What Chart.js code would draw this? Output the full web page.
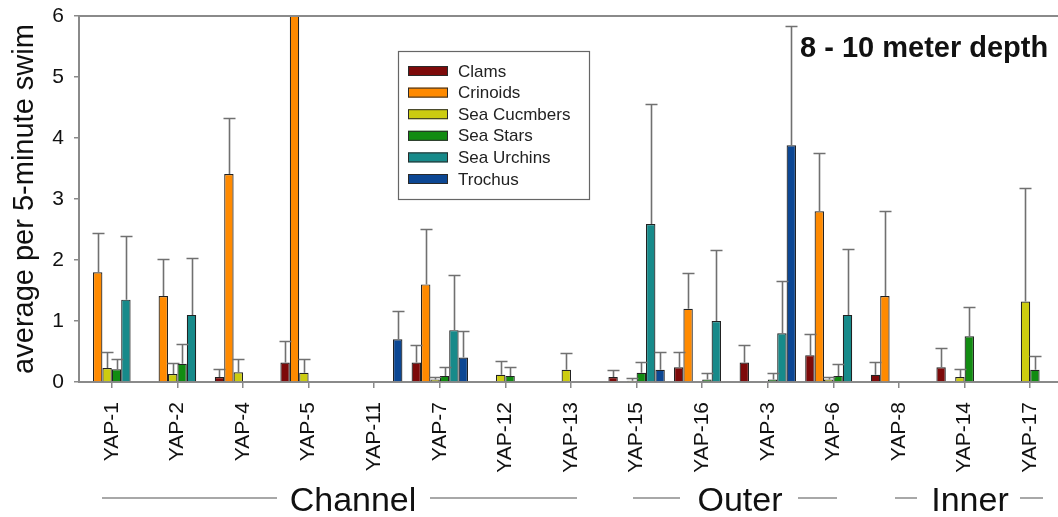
<!DOCTYPE html>
<html><head><meta charset="utf-8">
<script src="https://cdn.jsdelivr.net/npm/chart.js@4"></script>
<style>
html,body{margin:0;padding:0;background:#fff;overflow:hidden;width:1058px;height:517px}
#wrap{position:relative;width:1063px;height:517px}
canvas{display:block}
</style></head>
<body><div id="wrap"><canvas id="c" width="1063" height="517"></canvas></div>
<script>
// ---- data ----
const categories = ['YAP-1','YAP-2','YAP-4','YAP-5','YAP-11','YAP-7','YAP-12','YAP-13','YAP-15','YAP-16','YAP-3','YAP-6','YAP-8','YAP-14','YAP-17'];
const seriesNames = ['Clams','Crinoids','Sea Cucmbers','Sea Stars','Sea Urchins','Trochus'];

const clams       = [null,null,0.08,0.32,null,0.32,null,null,0.08,0.24,0.32,0.44,0.12,0.24,null];
const clamsSE     = [null,null,0.13,0.36,null,0.28,null,null,0.12,0.26,0.28,0.35,0.20,0.32,null];
const crinoids    = [1.80,1.41,3.41,6.40,null,1.60,null,null,null,1.20,null,2.80,1.41,null,null];
const crinoidsSE  = [0.65,0.60,0.92,1.20,null,0.91,null,null,null,0.58,null,0.96,1.39,null,null];
const cucumbers   = [0.23,0.13,0.16,0.15,null,0.04,0.12,0.20,0.02,null,null,0.04,null,0.08,1.32];
const cucumbersSE = [0.27,0.18,0.21,0.22,null,0.04,0.22,0.27,0.05,null,null,0.04,null,0.13,1.86];
const stars       = [0.21,0.30,null,null,null,0.10,0.10,null,0.15,0.04,0.04,0.10,null,0.75,0.20];
const starsSE     = [0.17,0.33,null,null,null,0.14,0.14,null,0.17,0.11,0.11,0.20,null,0.48,0.23];
const urchins     = [1.35,1.10,null,null,null,0.85,null,null,2.59,1.00,0.80,1.10,null,null,null];
const urchinsSE   = [1.04,0.94,null,null,null,0.91,null,null,1.96,1.16,0.85,1.08,null,null,null];
const trochus     = [null,null,null,null,0.70,0.40,null,null,0.20,null,3.88,null,null,null,null];
const trochusSE   = [null,null,null,null,0.46,0.43,null,null,0.29,null,1.96,null,null,null,null];

const yTicks = [0,1,2,3,4,5,6];
const groupNames = ['Channel','Outer','Inner'];
const chartTitle = '8 - 10 meter depth';
const yTitle = 'average per 5-minute swim';

// ---- styling ----
const colors = ['#7d0a0a','#ff8a00','#cccc10','#128c12','#178a8a','#0c4793'];
const FONT = "'Liberation Sans', Arial, sans-serif";

const values = [clams,crinoids,cucumbers,stars,urchins,trochus];
const errs = [clamsSE,crinoidsSE,cucumbersSE,starsSE,urchinsSE,trochusSE];

const datasets = seriesNames.map((n,i)=>({
  label:n, data:values[i], errors:errs[i],
  backgroundColor:colors[i], borderColor:'#222', borderWidth:1.2,
  barPercentage:1.0, categoryPercentage:0.86
}));

const AXIS = '#8a8a8a';

const errorBarPlugin = {
  id:'errorBars',
  afterDatasetsDraw(chart){
    const ctx=chart.ctx, ys=chart.scales.y, a=chart.chartArea;
    ctx.save();
    ctx.beginPath(); ctx.rect(a.left, a.top-2, a.right-a.left, a.bottom-a.top+2); ctx.clip();
    ctx.strokeStyle='#707070'; ctx.lineWidth=1.6;
    chart.data.datasets.forEach((ds,di)=>{
      const meta=chart.getDatasetMeta(di);
      ds.data.forEach((v,i)=>{
        const e=ds.errors[i];
        if(v==null||e==null) return;
        const bar=meta.data[i];
        const x=Math.round(bar.x)+0.5, y0=ys.getPixelForValue(v), y1=Math.round(ys.getPixelForValue(v+e))+0.5;
        ctx.beginPath();
        ctx.moveTo(x,y0); ctx.lineTo(x,y1);
        ctx.moveTo(x-6,y1); ctx.lineTo(x+6,y1);
        ctx.stroke();
      });
    });
    ctx.restore();
  }
};

const decorPlugin = {
  id:'decor',
  afterDraw(chart){
    const ctx=chart.ctx, a=chart.chartArea;
    ctx.save();
    // top frame line
    ctx.strokeStyle=AXIS; ctx.lineWidth=2;
    ctx.beginPath(); ctx.moveTo(a.left,a.top); ctx.lineTo(a.right,a.top); ctx.stroke();
    // title
    ctx.fillStyle='#111'; ctx.font="bold 29px "+FONT; ctx.textAlign='left'; ctx.textBaseline='alphabetic';
    ctx.fillText(chartTitle, 800, 57);
    // legend
    const lx=398, ly=51, lw=191, lh=148;
    ctx.fillStyle='#fff'; ctx.fillRect(lx,ly,lw,lh);
    ctx.strokeStyle='#666'; ctx.lineWidth=1.2; ctx.strokeRect(lx+0.5,ly+0.5,lw,lh);
    ctx.font="17px "+FONT; ctx.textBaseline='middle';
    chart.data.datasets.forEach((ds,i)=>{
      const cy=71+i*21.6;
      ctx.fillStyle=ds.backgroundColor; ctx.fillRect(408,cy-5,40,10);
      ctx.strokeStyle='#2a2a2a'; ctx.lineWidth=1; ctx.strokeRect(408.5,cy-4.5,39,9);
      ctx.fillStyle='#222'; ctx.fillText(ds.label,458,cy+1);
    });
    // group labels
    const groups=[
      {cx:353, lines:[[102,277],[430,577]]},
      {cx:740, lines:[[633,680],[798,837]]},
      {cx:970, lines:[[895,917],[1020,1043]]}
    ];
    ctx.font="34px "+FONT; ctx.textAlign='center'; ctx.textBaseline='alphabetic'; ctx.fillStyle='#111';
    ctx.strokeStyle='#a8a8a8'; ctx.lineWidth=2;
    groups.forEach((g,i)=>{
      ctx.fillText(groupNames[i], g.cx, 511);
      g.lines.forEach(l=>{ctx.beginPath(); ctx.moveTo(l[0],498); ctx.lineTo(l[1],498); ctx.stroke();});
    });
    ctx.restore();
  }
};

new Chart(document.getElementById('c'), {
  type:'bar',
  data:{labels:categories, datasets},
  plugins:[errorBarPlugin, decorPlugin],
  options:{
    responsive:false, animation:false, devicePixelRatio:1,
    layout:{padding:{top:16,left:0,right:0,bottom:0}},
    plugins:{legend:{display:false}, tooltip:{enabled:false}},
    scales:{
      x:{
        afterFit(s){ s.height=135; s.paddingLeft=0; s.paddingRight=0; },
        grid:{offset:false, drawOnChartArea:false, drawTicks:true, tickLength:6, color:AXIS, lineWidth:1.5},
        border:{display:true, color:AXIS, width:2},
        ticks:{minRotation:90, maxRotation:90, autoSkip:false, padding:14, color:'#111', font:{family:FONT, size:21}}
      },
      y:{
        min:0, max:6,
        afterFit(s){ s.width=79; s.paddingTop=0; s.paddingBottom=0; },
        afterBuildTicks(s){ s.ticks = yTicks.map(v=>({value:v})); },
        grid:{drawOnChartArea:false, drawTicks:true, tickLength:5, color:AXIS, lineWidth:1.5},
        border:{display:true, color:AXIS, width:2},
        ticks:{padding:10, color:'#111', font:{family:FONT, size:21}},
        title:{display:true, text:yTitle, color:'#111', font:{family:FONT, size:29, lineHeight:1}, padding:{top:10,bottom:0}}
      }
    }
  }
});
</script>
</body></html>
